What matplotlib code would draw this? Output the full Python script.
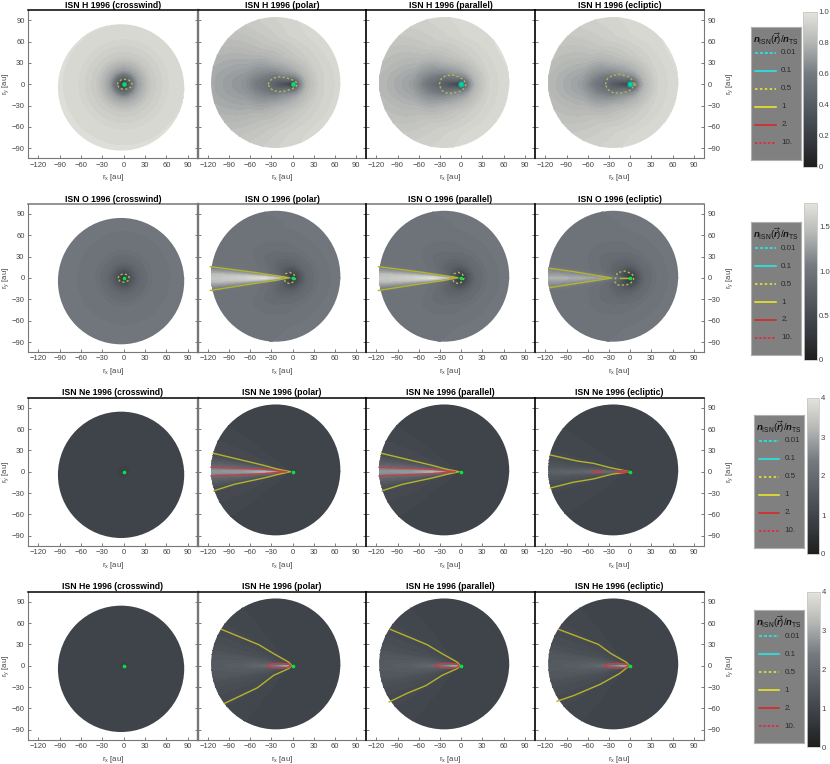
import numpy as np
import matplotlib
matplotlib.use("Agg")
import matplotlib.pyplot as plt
from matplotlib.cm import ScalarMappable
from matplotlib.colors import LinearSegmentedColormap, Normalize
from matplotlib.patches import Circle

plt.rcParams['font.family'] = ['Liberation Sans', 'DejaVu Sans']
plt.rcParams['mathtext.fontset'] = 'custom'
plt.rcParams['mathtext.rm'] = 'Liberation Sans'
plt.rcParams['mathtext.it'] = 'Liberation Sans:italic:bold'
plt.rcParams['mathtext.bf'] = 'Liberation Sans:bold'

W, H = 830, 764

SPECIES = ["H", "O", "Ne", "He"]
VIEWS = ["crosswind", "polar", "parallel", "ecliptic"]
X_TICKS = [-120, -90, -60, -30, 0, 30, 60, 90]
Y_TICKS = [-90, -60, -30, 0, 30, 60, 90]
CB_MAX = [1.0, 1.77, 4.0, 4.0]
CB_TICKS = [[0, 0.2, 0.4, 0.6, 0.8, 1.0], [0, 0.5, 1.0, 1.5], [0, 1, 2, 3, 4], [0, 1, 2, 3, 4]]
CB_LABELS = [["0", "0.2", "0.4", "0.6", "0.8", "1.0"], ["0", "0.5", "1.0", "1.5"],
             ["0", "1", "2", "3", "4"], ["0", "1", "2", "3", "4"]]
LEGEND_LABELS = ["0.01", "0.1", "0.5", "1", "2.", "10."]

# density: rows are angle from downwind, columns are distance
ANG = [0, 2, 4, 8, 12, 18, 28, 50, 90, 135, 180]
RAD = [0.5, 4, 10, 20, 40, 70, 130]

H_CROSS = [.12, .22, .46, .72, .88, .95, .98]
H_POLAR = [[.10, .24, .30, .38, .55, .68, .78], [.10, .24, .30, .38, .55, .68, .78],
           [.10, .24, .30, .39, .55, .68, .78], [.10, .25, .31, .40, .56, .69, .78],
           [.10, .25, .33, .42, .58, .70, .79], [.10, .26, .36, .46, .60, .72, .80],
           [.10, .28, .44, .55, .66, .76, .83], [.10, .30, .55, .68, .78, .85, .90],
           [.10, .32, .62, .76, .87, .93, .96], [.10, .30, .62, .80, .90, .95, .97],
           [.10, .28, .60, .80, .91, .95, .97]]
H_ECL = [[.10, .24, .30, .38, .52, .72, .84], [.10, .24, .30, .38, .52, .72, .84],
         [.10, .24, .30, .39, .53, .72, .84], [.10, .25, .31, .40, .55, .73, .84],
         [.10, .25, .33, .42, .57, .74, .85], [.10, .26, .36, .46, .60, .76, .86],
         [.10, .28, .44, .55, .67, .80, .87], [.10, .30, .55, .68, .80, .88, .92],
         [.10, .32, .62, .76, .88, .94, .97], [.10, .30, .62, .80, .91, .96, .98],
         [.10, .28, .60, .80, .92, .96, .98]]

O_CROSS = [.2, .34, .58, .82, .96, 1.0, 1.02]
O_POLAR = [[.2, .9, 1.05, 1.45, 1.72, 1.6, 1.5], [.2, .8, .98, 1.3, 1.6, 1.55, 1.45],
           [.2, .6, .85, 1.12, 1.35, 1.35, 1.3], [.2, .42, .62, .9, 1.0, 1.02, 1.0],
           [.2, .40, .58, .82, .93, .97, .97], [.2, .38, .55, .78, .9, .95, .97],
           [.2, .36, .52, .75, .88, .95, .98], [.2, .35, .52, .75, .9, .97, 1.0],
           [.2, .33, .55, .8, .95, 1.0, 1.02], [.2, .33, .58, .85, .97, 1.02, 1.03],
           [.2, .35, .6, .85, .97, 1.02, 1.03]]
O_ECL = [[.2, .7, .85, .92, 1.25, 1.35, 1.4], [.2, .65, .8, .9, 1.15, 1.25, 1.3],
         [.2, .55, .72, .86, 1.05, 1.15, 1.2], [.2, .42, .6, .82, .95, 1.0, 1.0],
         [.2, .40, .56, .8, .92, .97, .97], [.2, .38, .53, .76, .9, .95, .97],
         [.2, .36, .5, .74, .88, .95, .98], [.2, .35, .5, .75, .9, .97, 1.0],
         [.2, .33, .53, .8, .95, 1.0, 1.02], [.2, .33, .56, .85, .97, 1.02, 1.03],
         [.2, .35, .58, .85, .97, 1.02, 1.03]]

NE_CROSS = [.7, .85, .93, .97, .98, 1.0, 1.0]
NE_POLAR = [[.8, 1.7, 2.4, 2.9, 3.2, 2.8, 2.7], [.8, 1.4, 2.1, 2.5, 2.6, 2.5, 2.4],
            [.8, 1.1, 1.5, 1.75, 1.9, 1.9, 1.85], [.8, .95, 1.05, 1.25, 1.4, 1.5, 1.45],
            [.8, .92, .98, 1.0, 1.08, 1.15, 1.2], [.8, .92, .95, .97, .98, 1.0, 1.0],
            [.8, .92, .95, .97, .98, .98, .98], [.8, .92, .95, .97, .98, .98, .98],
            [.8, .92, .95, .97, .98, .98, .98], [.8, .92, .95, .97, .98, .98, .98],
            [.8, .92, .95, .97, .98, .98, .98]]
NE_ECL = [[.8, 1.6, 2.05, 1.9, 2.05, 1.8, 1.7], [.8, 1.3, 1.7, 1.6, 1.75, 1.6, 1.55],
          [.8, 1.1, 1.35, 1.4, 1.45, 1.4, 1.4], [.8, .95, 1.05, 1.15, 1.25, 1.25, 1.25],
          [.8, .92, 1.0, 1.0, 1.05, 1.1, 1.12], [.8, .92, .95, .97, .98, 1.0, 1.0],
          [.8, .92, .95, .97, .98, .98, .98], [.8, .92, .95, .97, .98, .98, .98],
          [.8, .92, .95, .97, .98, .98, .98], [.8, .92, .95, .97, .98, .98, .98],
          [.8, .92, .95, .97, .98, .98, .98]]

HE_CROSS = [.8, .9, .95, .97, .98, 1.0, 1.0]
HE_POLAR = [[1.2, 3.0, 3.0, 2.5, 1.9, 1.65, 1.5], [1.2, 2.6, 2.5, 2.0, 1.8, 1.6, 1.5],
            [1.1, 2.0, 2.0, 1.75, 1.65, 1.55, 1.45], [1.0, 1.4, 1.5, 1.45, 1.5, 1.45, 1.4],
            [1.0, 1.15, 1.25, 1.3, 1.35, 1.3, 1.3], [.95, 1.0, 1.05, 1.1, 1.2, 1.2, 1.2],
            [.95, .98, 1.0, 1.0, 1.03, 1.05, 1.05], [.95, .97, .98, .98, .98, .98, .98],
            [.95, .97, .98, .98, .98, .98, .98], [.95, .97, .98, .98, .98, .98, .98],
            [.95, .97, .98, .98, .98, .98, .98]]

# contours, in au
H_CROSS_D_X = [-9, -7, -3, 1, 6, 10, 12, 10, 6, 1, -3, -7, -9]
H_CROSS_D_Y = [0, 4, 6.5, 7, 6.5, 4, 0, -4, -6.5, -7, -6.5, -4, 0]
H_POLAR_D_X = [-35, -32, -28, -20, -10, 0, 5, 7, 5, 0, -10, -20, -28, -32, -35]
H_POLAR_D_Y = [0, 5, 8.5, 10.5, 9.5, 6, 3, 0, -3, -6, -9.5, -10.5, -8.5, -5, 0]
H_PAR_D_X = [-31, -28, -22, -12, -2, 4, 7, 4, -2, -12, -22, -28, -31]
H_PAR_D_Y = [0, 8, 12, 13, 10, 6, 0, -6, -10, -12.5, -12, -8, 0]
H_ECL_D_X = [-35, -32, -25, -14, -3, 3, 5, 3, -3, -14, -25, -32, -35]
H_ECL_D_Y = [0, 8, 12.5, 14, 11, 6, 0, -6, -10, -12.5, -11.5, -7, 0]

O_CROSS_D_X = [-8, -6, 0, 6, 8, 6, 0, -6, -8]
O_CROSS_D_Y = [0, 4, 6, 4, 0, -4, -6, -4, 0]
O_POLAR_D_X = [-13, -10, -4, 2, 4, 2, -4, -10, -13]
O_POLAR_D_Y = [0, 6, 8, 5, 0, -5, -8, -6, 0]
O_ECL_D_X = [-21, -18, -7, 2, 4.7, 4.7, 1, -5, -18, -22]
O_ECL_D_Y = [-1.9, 7.5, 9.8, 6, 2.8, -2.8, -7, -9.8, -9.8, -5]
O_POLAR_Y_X = [-117, -55, -25, -5, -25, -53, -117]
O_POLAR_Y_Y = [16, 8, 3.5, .5, -3.5, -7.5, -17.5]
O_ECL_Y_X = [-114, -80, -26, -75, -114]
O_ECL_Y_Y = [13.6, 9, 0, -7.5, -13.6]
O_TIP_X = [-14, -1]
O_TIP_Y = [0, 0]

NE_POLAR_Y_X = [-113, -78.6, -43, -22, -3, -20, -43, -83, -111.6]
NE_POLAR_Y_Y = [25.9, 17.8, 9.4, 3.8, 0, -3.7, -9.3, -17.7, -26.7]
NE_POLAR_R_X = [-116, -46, -8, -46, -116]
NE_POLAR_R_Y = [6.2, 3.8, 0, -3, -6]
NE_ECL_Y_X = [-113, -75, -52, -28, 0, -26, -52, -80, -113]
NE_ECL_Y_Y = [23.5, 15, 11.8, 5.6, 0, -3.5, -10.2, -14.7, -23]
NE_ECL_R1_X = [-54, -46, -38.5, -46, -54]
NE_ECL_R1_Y = [0, 1, 0, -1, 0]
NE_ECL_R2_X = [-21, -10, -1, -10, -21]
NE_ECL_R2_Y = [0, 1.5, 0, -1.5, 0]

HE_POLAR_Y_X = [-101, -48, -27, -5.6, -1, -5.6, -27, -50, -97]
HE_POLAR_Y_Y = [51, 29.5, 17, 5, 0, -4, -13.6, -31, -53]
HE_PAR_Y_X = [-100, -48, -27, -5.6, -1, -5.6, -27, -50, -77, -102]
HE_PAR_Y_Y = [51, 29.5, 17, 5, 0, -4, -13.6, -28, -39, -51]
HE_ECL_Y_X = [-101, -45, -27, -5.6, -1, -15, -42, -80, -103.5]
HE_ECL_Y_Y = [51, 30, 17, 5, 0, -11, -26, -42, -50]
HE_R_X = [-37, -30, -18, -6, -2, -6, -18, -30, -37]
HE_R_Y = [0, 2.5, 3.5, 2.5, 0, -2.5, -3.5, -2.5, 0]

cmap = LinearSegmentedColormap.from_list(
    "tones", [(0, "#1e1e1e"), (.2, "#3a3e44"), (.4, "#565c62"), (.6, "#747a80"),
              (.8, "#b4b6b4"), (1, "#e4e4dc")])

C_CYAN = "#20f0f0"
C_YEL = "#f0f020"
C_RED = "#e02020"
C_CRIM = "#e8203c"
LINE_Y = "#b4b42c"
LINE_D = "#b5b55a"
LINE_R = "#c0404a"

tables = [
    [H_CROSS, H_POLAR, H_ECL, H_ECL],
    [O_CROSS, O_POLAR, O_POLAR, O_ECL],
    [NE_CROSS, NE_POLAR, NE_POLAR, NE_ECL],
    [HE_CROSS, HE_POLAR, HE_POLAR, HE_POLAR],
]
# (x, y, kind) per panel, kind: d=0.5 dashed, y=1 solid, r=2 solid
lines = [
    [[(H_CROSS_D_X, H_CROSS_D_Y, "d")], [(H_POLAR_D_X, H_POLAR_D_Y, "d")],
     [(H_PAR_D_X, H_PAR_D_Y, "d")], [(H_ECL_D_X, H_ECL_D_Y, "d")]],
    [[(O_CROSS_D_X, O_CROSS_D_Y, "d")],
     [(O_POLAR_D_X, O_POLAR_D_Y, "d"), (O_POLAR_Y_X, O_POLAR_Y_Y, "y")],
     [(O_POLAR_D_X, O_POLAR_D_Y, "d"), (O_POLAR_Y_X, O_POLAR_Y_Y, "y")],
     [(O_ECL_D_X, O_ECL_D_Y, "d"), (O_ECL_Y_X, O_ECL_Y_Y, "y"), (O_TIP_X, O_TIP_Y, "y")]],
    [[], [(NE_POLAR_Y_X, NE_POLAR_Y_Y, "y"), (NE_POLAR_R_X, NE_POLAR_R_Y, "r")],
     [(NE_POLAR_Y_X, NE_POLAR_Y_Y, "y"), (NE_POLAR_R_X, NE_POLAR_R_Y, "r")],
     [(NE_ECL_Y_X, NE_ECL_Y_Y, "y"), (NE_ECL_R1_X, NE_ECL_R1_Y, "r"), (NE_ECL_R2_X, NE_ECL_R2_Y, "r")]],
    [[], [(HE_POLAR_Y_X, HE_POLAR_Y_Y, "y"), (HE_R_X, HE_R_Y, "r")],
     [(HE_PAR_Y_X, HE_PAR_Y_Y, "y"), (HE_R_X, HE_R_Y, "r")],
     [(HE_ECL_Y_X, HE_ECL_Y_Y, "y"), (HE_R_X, HE_R_Y, "r")]],
]


def px_axes(fig, x0, y0, x1, y1, **kw):
    # axes from pixel edges, y counted from the top
    return fig.add_axes([x0 / W, 1 - y1 / H, (x1 - x0) / W, (y1 - y0) / H], **kw)


def smooth_1d(v, width):
    # gaussian blur with mirrored ends, takes the corners off the table grid
    half = int(3 * width)
    k = np.exp(-0.5 * (np.arange(-half, half + 1) / width) ** 2)
    k /= k.sum()
    return np.convolve(np.pad(v, half, mode="reflect"), k, mode="valid")


def draw_field(ax, table, vmax, disc):
    tb = np.array(table, dtype=float)
    if tb.ndim == 1:
        tb = np.tile(tb, (len(ANG), 1))
    # render grid only, the values stay the ones in the tables
    rr_f = np.arange(0.5, 130.5, 0.5)
    th_f = np.arange(0, 180.25, 0.25)
    by_r = np.array([smooth_1d(np.interp(rr_f, RAD, row), 5) for row in tb])
    field = np.array([np.interp(th_f, ANG, by_r[:, j]) for j in range(len(rr_f))])
    # keep the narrow downwind wedge sharp, blur only away from it
    soft = np.array([smooth_1d(row, 48) for row in field])
    w = np.clip((th_f - 10) / 20, 0, 1)
    field = (1 - w) * field + w * soft
    theta = np.deg2rad(np.concatenate([-th_f[::-1][:-1], th_f]))
    vals = np.hstack([field[:, ::-1][:, :-1], field])
    rr, tt = np.meshgrid(rr_f, theta, indexing="ij")
    x = -rr * np.cos(tt)
    y = rr * np.sin(tt)
    levels = np.linspace(0, vmax, 49)
    cs = ax.contourf(x, y, vals, levels=levels, cmap=cmap, vmin=0, vmax=vmax, extend="both")
    cs.set_edgecolor("face")
    cs.set_linewidth(0.25)
    patch = Circle(disc[:2], disc[2], transform=ax.transData, facecolor="none", edgecolor="none")
    ax.add_patch(patch)
    cs.set_clip_path(patch)


panel_x = [28, 198, 366, 535, 704]
row_top = [10.3, 204, 397.7, 591.7]
row_h = 148
legend_pos = [(750.7, 27), (750.7, 222), (754, 415), (754, 610)]
cbar_pos = [(803, 11.7, 816.7, 166.7), (804, 203, 817, 360), (806.7, 398, 819, 554), (807, 592, 819.5, 747)]

fig = plt.figure(figsize=(8.3, 7.64), dpi=100)

for r, sp in enumerate(SPECIES):
    norm = Normalize(0, CB_MAX[r])
    top = row_top[r]
    for c, view in enumerate(VIEWS):
        ax = px_axes(fig, panel_x[c], top, panel_x[c + 1], top + row_h)
        disc = (-3.7, -4.4, 88.8) if c == 0 else (-24, 2.5, 92)
        draw_field(ax, tables[r][c], CB_MAX[r], disc)
        for lx, ly, kind in lines[r][c]:
            if kind == "d":
                ax.plot(lx, ly, color=LINE_D, lw=1.0, ls=(0, (1.6, 1.6)))
            elif kind == "y":
                ax.plot(lx, ly, color=LINE_Y, lw=1.0)
            else:
                ax.plot(lx, ly, color=LINE_R, lw=1.0)
        # Sun marker, H parallel/ecliptic also show the small cyan ring
        if r == 0 and c >= 2:
            ax.scatter([0], [0], s=14, color="#00e070", edgecolors="#18a0c0", linewidths=0.8, zorder=5)
            if c == 3:
                ax.scatter([5.5], [0], s=2, color="#d09a30", zorder=4)
        elif r == 0:
            ax.scatter([0], [0], s=11, color="#00e070", zorder=5, linewidths=0)
        else:
            ax.scatter([0], [0], s=7, color="#00e838", zorder=5, linewidths=0)

        ax.set_xlim(-134.6, 104.5)
        ax.set_ylim(-104, 104)
        ax.set_xticks(X_TICKS)
        ax.set_yticks(Y_TICKS)
        ax.tick_params(direction="in", length=2, width=0.6, color="#666666", labelsize=5.5,
                       labelcolor="#444444", pad=2.5, top=False, bottom=True, left=True, right=True,
                       labelleft=(c == 0), labelright=(c == 3))
        for s in ax.spines.values():
            s.set_color("#777777")
            s.set_linewidth(0.8)
        if r != 1:
            ax.spines["top"].set_color("black")
        ax.spines["top"].set_linewidth(1.1)
        if c == 1:
            ax.spines["left"].set_linewidth(1.7)
        elif c >= 2:
            ax.spines["left"].set_color("black")
            ax.spines["left"].set_linewidth(1.2)
            ax.spines["left"].set_zorder(6)
        ax.set_title(f"ISN {sp} 1996 ({view})", fontsize=6.2, fontweight="bold", pad=1.6)
        ax.set_xlabel(r"r$_{\mathrm{x}}$ [au]", fontsize=5.6, color="#444444", labelpad=2.5)
        if c == 0:
            ax.set_ylabel(r"r$_{\mathrm{y}}$ [au]", fontsize=5.6, color="#444444", labelpad=0.6)
        if c == 3:
            ax.yaxis.set_label_position("right")
            ax.set_ylabel(r"r$_{\mathrm{y}}$ [au]", fontsize=5.6, color="#444444", labelpad=3)

    # legend box
    lx, ly = legend_pos[r]
    lg = px_axes(fig, lx, ly, lx + 50, ly + 133)
    lg.set_xlim(0, 50)
    lg.set_ylim(133, 0)
    lg.set_facecolor("#808080")
    lg.set_xticks([])
    lg.set_yticks([])
    for s in lg.spines.values():
        s.set_color("#b0b0b0")
        s.set_linewidth(0.8)
    lg.text(25, 12, r"$n_{\mathrm{ISN}}(\overrightarrow{r})/n_{\mathrm{TS}}$", fontsize=6.8,
            ha="center", va="center", color="#111111")
    styles = [(C_CYAN, (0, (2, 1.2))), (C_CYAN, "-"), (C_YEL, (0, (1.6, 1.6))), (C_YEL, "-"),
              (C_RED, "-"), (C_CRIM, (0, (1.6, 1.2)))]
    for i, lab in enumerate(LEGEND_LABELS):
        yy = 26 + 18 * i
        lg.plot([4.5, 25], [yy, yy], color=styles[i][0], ls=styles[i][1], lw=1.1)
        lg.text(30.5, yy, lab, fontsize=5.8, va="center", ha="left", color="#2a2a2a")

    # colorbar
    x0, y0, x1, y1 = cbar_pos[r]
    cax = px_axes(fig, x0, y0, x1, y1)
    cb = fig.colorbar(ScalarMappable(norm=norm, cmap=cmap), cax=cax)
    cb.set_ticks(CB_TICKS[r])
    cb.set_ticklabels(CB_LABELS[r])
    cb.ax.tick_params(length=0, labelsize=5.6, labelcolor="#444444", pad=1.5)
    cb.outline.set_edgecolor("#c8c8c8")
    cb.outline.set_linewidth(0.6)

fig.savefig("out.png", dpi=100)
